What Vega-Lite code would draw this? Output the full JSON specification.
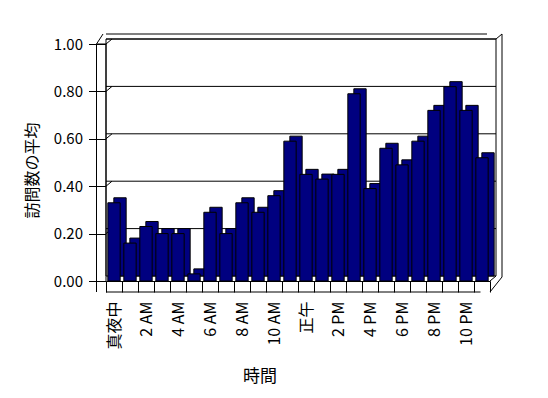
{
  "$schema": "https://vega.github.io/schema/vega-lite/v6.json",
  "autosize": "none",
  "padding": {"left": 106, "top": 44, "right": 58, "bottom": 117},
  "width": 384,
  "height": 237,
  "background": "white",
  "config": {
    "view": {"stroke": null},
    "font": "Noto Sans CJK JP",
    "axis": {"labelFont": "Noto Sans CJK JP", "titleFont": "Noto Sans CJK JP", "labelColor": "black", "titleColor": "black", "titleFontWeight": "normal"}
  },
  "datasets": {
    "bars": [
      {"時間": 0, "訪問数の平均": 0.33}, {"時間": 1, "訪問数の平均": 0.16}, {"時間": 2, "訪問数の平均": 0.23},
      {"時間": 3, "訪問数の平均": 0.2}, {"時間": 4, "訪問数の平均": 0.2}, {"時間": 5, "訪問数の平均": 0.03},
      {"時間": 6, "訪問数の平均": 0.29}, {"時間": 7, "訪問数の平均": 0.2}, {"時間": 8, "訪問数の平均": 0.33},
      {"時間": 9, "訪問数の平均": 0.29}, {"時間": 10, "訪問数の平均": 0.36}, {"時間": 11, "訪問数の平均": 0.59},
      {"時間": 12, "訪問数の平均": 0.45}, {"時間": 13, "訪問数の平均": 0.43}, {"時間": 14, "訪問数の平均": 0.45},
      {"時間": 15, "訪問数の平均": 0.79}, {"時間": 16, "訪問数の平均": 0.39}, {"時間": 17, "訪問数の平均": 0.56},
      {"時間": 18, "訪問数の平均": 0.49}, {"時間": 19, "訪問数の平均": 0.59}, {"時間": 20, "訪問数の平均": 0.72},
      {"時間": 21, "訪問数の平均": 0.82}, {"時間": 22, "訪問数の平均": 0.72}, {"時間": 23, "訪問数の平均": 0.52}
    ],
    "grid": [{"v": 0.2}, {"v": 0.4}, {"v": 0.6}, {"v": 0.8}, {"v": 1}],
    "one": [{}]
  },
  "layer": [
    {
      "data": {"name": "one"},
      "mark": {"type": "rect", "fill": "white", "stroke": "black", "strokeWidth": 1, "xOffset": 6, "x2Offset": 6, "yOffset": -5, "y2Offset": -5},
      "encoding": {"y": {"datum": 1, "type": "quantitative"}, "y2": {"datum": 0}}
    },
    {
      "data": {"name": "grid"},
      "mark": {"type": "rule", "color": "black", "strokeWidth": 1, "xOffset": 6, "x2Offset": 6, "yOffset": -5},
      "encoding": {"y": {"field": "v", "type": "quantitative"}}
    },
    {
      "data": {"name": "grid"},
      "mark": {"type": "rule", "color": "black", "strokeWidth": 1, "x2Offset": 6, "y2Offset": -5},
      "encoding": {
        "x": {"datum": 0, "type": "ordinal", "bandPosition": 0},
        "x2": {"datum": 0, "bandPosition": 0},
        "y": {"field": "v", "type": "quantitative"},
        "y2": {"field": "v"}
      }
    },
    {
      "data": {"name": "one"},
      "mark": {"type": "rule", "color": "black", "strokeWidth": 1, "xOffset": -9.5, "y2Offset": 11},
      "encoding": {
        "x": {"datum": 0, "type": "ordinal", "bandPosition": 0},
        "y": {"datum": 1, "type": "quantitative"},
        "y2": {"datum": 0}
      }
    },
    {
      "data": {"name": "one"},
      "mark": {"type": "rule", "color": "black", "strokeWidth": 1},
      "encoding": {
        "x": {"datum": 0, "type": "ordinal", "bandPosition": 0},
        "y": {"datum": 1, "type": "quantitative"},
        "y2": {"datum": 0}
      }
    },
    {
      "data": {"name": "one"},
      "mark": {"type": "rule", "color": "black", "strokeWidth": 1, "xOffset": -9.5},
      "encoding": {
        "x": {"datum": 0, "type": "ordinal", "bandPosition": 0},
        "x2": {"datum": 0, "bandPosition": 0},
        "y": {"datum": 1, "type": "quantitative"}
      }
    },
    {
      "data": {"name": "one"},
      "mark": {"type": "rule", "color": "black", "strokeWidth": 1, "xOffset": -9.5, "x2Offset": -3, "y2Offset": -10},
      "encoding": {
        "x": {"datum": 0, "type": "ordinal", "bandPosition": 0},
        "x2": {"datum": 0, "bandPosition": 0},
        "y": {"datum": 1, "type": "quantitative"},
        "y2": {"datum": 1}
      }
    },
    {
      "data": {"name": "one"},
      "mark": {"type": "rule", "color": "black", "strokeWidth": 1, "xOffset": -3, "x2Offset": 12, "yOffset": -10},
      "encoding": {"y": {"datum": 1, "type": "quantitative"}}
    },
    {
      "data": {"name": "one"},
      "mark": {"type": "rule", "color": "black", "strokeWidth": 1, "xOffset": 12, "yOffset": -10, "y2Offset": -4},
      "encoding": {
        "x": {"datum": 23, "type": "ordinal", "bandPosition": 1},
        "y": {"datum": 1, "type": "quantitative"},
        "y2": {"datum": 0}
      }
    },
    {
      "data": {"name": "one"},
      "mark": {"type": "rule", "color": "black", "strokeWidth": 1, "xOffset": 6, "x2Offset": 12, "yOffset": -5, "y2Offset": -10},
      "encoding": {
        "x": {"datum": 23, "type": "ordinal", "bandPosition": 1},
        "x2": {"datum": 23, "bandPosition": 1},
        "y": {"datum": 1, "type": "quantitative"},
        "y2": {"datum": 1}
      }
    },
    {
      "data": {"name": "bars"},
      "mark": {"type": "bar", "fill": "#000080", "stroke": "black", "strokeWidth": 1, "width": {"band": 0.77}, "xOffset": 6, "yOffset": -5, "y2Offset": -5},
      "encoding": {
        "x": {"field": "時間", "type": "ordinal"},
        "y": {"field": "訪問数の平均", "type": "quantitative"}
      }
    },
    {
      "data": {"name": "bars"},
      "mark": {"type": "bar", "fill": "#000080", "stroke": "black", "strokeWidth": 1, "width": {"band": 0.77}},
      "encoding": {
        "x": {
          "field": "時間", "type": "ordinal",
          "scale": {"type": "band", "paddingInner": 0, "paddingOuter": 0, "domain": [0,1,2,3,4,5,6,7,8,9,10,11,12,13,14,15,16,17,18,19,20,21,22,23]},
          "axis": {
            "title": "時間", "titleFontSize": 17, "titleX": 153.5, "titleY": 95.5, "titleAlign": "center", "titleBaseline": "middle",
            "labelAngle": -90, "labelAlign": "right", "labelBaseline": "middle", "labelFontSize": 16, "labelPadding": 9, "labelOverlap": false,
            "labelExpr": "datum.value === 0 ? '真夜中' : datum.value === 12 ? '正午' : indexof([2,4,6,8,10,14,16,18,20,22], datum.value) >= 0 ? (datum.value % 12) + ' ' + (datum.value < 12 ? 'AM' : 'PM') : ''",
            "tickBand": "extent", "tickSize": 11, "tickColor": "black", "domainColor": "black", "grid": false
          }
        },
        "y": {
          "field": "訪問数の平均", "type": "quantitative",
          "scale": {"domain": [0, 1], "nice": false, "zero": true},
          "axis": {
            "title": "訪問数の平均", "titleFontSize": 16, "titleX": -73.5, "titleY": 126, "titleAngle": 270, "titleAlign": "center", "titleBaseline": "middle",
            "values": [0, 0.2, 0.4, 0.6, 0.8, 1], "format": ".2f", "labelFontSize": 15, "labelPadding": 6,
            "domain": false, "tickSize": 17.5, "tickColor": "black", "grid": false
          }
        }
      }
    },
    {
      "data": {"name": "one"},
      "mark": {"type": "rule", "color": "black", "strokeWidth": 1, "xOffset": -9.5, "yOffset": 11},
      "encoding": {"y": {"datum": 0, "type": "quantitative"}}
    },
    {
      "data": {"name": "one"},
      "mark": {"type": "rule", "color": "black", "strokeWidth": 1, "yOffset": 11, "x2Offset": 12, "y2Offset": -4},
      "encoding": {
        "x": {"datum": 23, "type": "ordinal", "bandPosition": 1},
        "x2": {"datum": 23, "bandPosition": 1},
        "y": {"datum": 0, "type": "quantitative"},
        "y2": {"datum": 0}
      }
    },
    {
      "data": {"name": "one"},
      "mark": {"type": "rule", "color": "black", "strokeWidth": 1, "x2Offset": 6, "y2Offset": -5},
      "encoding": {
        "x": {"datum": 23, "type": "ordinal", "bandPosition": 1},
        "x2": {"datum": 23, "bandPosition": 1},
        "y": {"datum": 0, "type": "quantitative"},
        "y2": {"datum": 0}
      }
    }
  ]
}
